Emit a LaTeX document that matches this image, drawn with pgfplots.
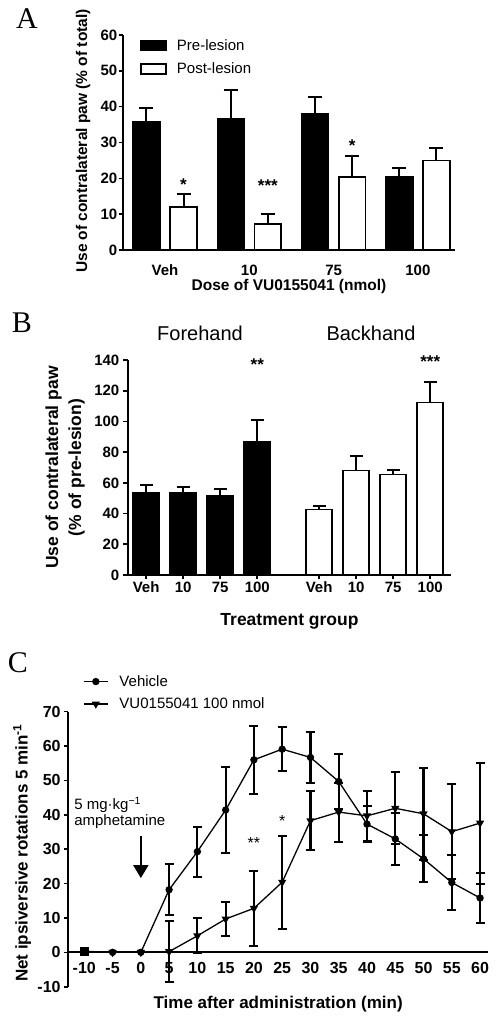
\documentclass[border=0pt]{standalone}
\usepackage{pgfplots}
\pgfplotsset{compat=1.18}
\usepackage{pgfplotstable}
\usepackage{fontspec}
\setmainfont{Liberation Sans}
\newfontfamily\serifletter{Liberation Serif}
\usetikzlibrary{arrows.meta}
\newcommand{\fs}[1]{\fontsize{#1}{#1}\selectfont}

% Panel A (bars at group position -0.22 / +0.22)
\pgfplotstableread{
x y err
-0.22 35.8 3.7
0.78 36.6 8.0
1.78 38.1 4.6
2.78 20.4 2.6
}\preA
\pgfplotstableread{
x y err
0.22 11.9 3.6
1.22 7.3 2.8
2.22 20.4 5.8
3.22 25.0 3.6
}\postA
% Panel B
\pgfplotstableread{
x y err
0 53.3 5.2
1 53.7 3.9
2 51.6 4.1
3 86.7 14.1
}\foreB
\pgfplotstableread{
x y err
4.67 42.7 2.4
5.67 68.0 9.4
6.67 65.5 3.0
7.67 112.3 13.4
}\backB
% Panel C
\pgfplotstableread{
t y err
-10 0.0 0.6
-5 0.0 0.0
0 0.0 0.0
5 18.2 7.4
10 29.3 7.3
15 41.4 12.5
20 56.0 9.8
25 59.1 6.4
30 56.7 7.4
35 49.7 8.0
40 37.3 5.3
45 33.0 7.5
50 27.2 6.8
55 20.3 8.1
60 15.8 7.3
}\vehC
\pgfplotstableread{
t y err
-10 0.3 1.0
-5 0.0 0.0
0 0.0 0.0
5 0.2 8.8
10 4.8 5.1
15 9.7 4.9
20 12.8 11.0
25 20.4 13.5
30 38.3 8.5
35 40.8 8.6
40 39.7 7.3
45 41.9 10.5
50 40.3 13.3
55 35.1 13.9
60 37.6 17.6
}\vuC

\pgfplotsset{
  panel/.style={
    scale only axis,
    axis x line*=bottom, axis y line*=left,
    axis line style={line width=2pt},
    tick style={line width=1.6pt, black},
    tick align=outside,
    major tick length=4.5pt,
    clip=false,
    /pgf/number format/assume math mode=true,
  },
  barlegend/.style={legend image code/.code={\draw[line width=1.8pt,##1] (0pt,-5pt) rectangle (25pt,5pt);}},
  linelegend/.style={legend image code/.code={\draw[mark repeat=2,mark phase=2,##1] plot coordinates {(0pt,0pt) (12pt,0pt) (24pt,0pt)};}},
}

\begin{document}
\begin{tikzpicture}
\useasboundingbox (0pt,0pt) rectangle (502pt,1018pt);

% ---------------- Panel A ----------------
\begin{axis}[panel,
  at={(123pt,768pt)}, anchor=south west,
  width=332pt, height=215pt,
  xmin=-0.498, xmax=3.44, ymin=0, ymax=60,
  xtick={0,1,2,3}, xticklabels={Veh,10,75,100},
  x tick style={draw=none},
  ytick={0,10,...,60},
  xticklabel style={font=\bfseries\fs{15}, inner sep=0pt, yshift=-10pt},
  yticklabel style={font=\bfseries\fs{15}, inner sep=1pt},
  xlabel={Dose of VU0155041 (nmol)},
  ylabel={Use of contralateral paw (\% of total)},
  xlabel style={font=\bfseries\fs{15.5}, at={(axis description cs:0.5,-0.172)}, anchor=center},
  ylabel style={font=\bfseries\fs{15.5}, at={(axis description cs:-0.1205,0.507)}, anchor=center},
  barlegend,
  legend style={draw=none, fill=none, at={(axis description cs:0.051,0.99)}, anchor=north west,
     font=\fs{15}, inner sep=0pt, row sep=7pt, column sep=8pt, nodes={inner sep=2pt}},
  legend cell align=left,
]
\addplot[ybar, bar width=0.315, bar shift=0, fill=black, draw=black, line width=1.8pt,
  error bars/y dir=plus, error bars/y explicit,
  error bars/error bar style={line width=2pt},
  error bars/error mark options={rotate=90, mark size=7pt, line width=2pt}]
  table[x=x, y=y, y error=err]{\preA};
\addlegendentry{Pre-lesion}
\addplot[ybar, bar width=0.315, bar shift=0, fill=white, draw=black, line width=1.8pt,
  error bars/y dir=plus, error bars/y explicit,
  error bars/error bar style={line width=2pt},
  error bars/error mark options={rotate=90, mark size=7pt, line width=2pt}]
  table[x=x, y=y, y error=err]{\postA};
\addlegendentry{Post-lesion}
\node[font=\bfseries\fs{17}, anchor=base, inner sep=0pt] at (axis cs:0.22,16.6) {*};
\node[font=\bfseries\fs{17}, anchor=base, inner sep=0pt] at (axis cs:1.22,16.2) {***};
\node[font=\bfseries\fs{17}, anchor=base, inner sep=0pt] at (axis cs:2.22,27.6) {*};
\end{axis}

% ---------------- Panel B ----------------
\begin{axis}[panel,
  at={(128pt,443pt)}, anchor=south west,
  width=323pt, height=215pt,
  xmin=-0.49, xmax=8.23, ymin=0, ymax=140,
  xtick={0,1,2,3,4.67,5.67,6.67,7.67}, xticklabels={Veh,10,75,100,Veh,10,75,100},
  ytick={0,20,...,140},
  xticklabel style={font=\bfseries\fs{15}, inner sep=2pt},
  yticklabel style={font=\bfseries\fs{15}, inner sep=4pt},
  xlabel={Treatment group},
  ylabel={Use of contralateral paw\\(\% of pre-lesion)},
  xlabel style={font=\bfseries\fs{17.5}, at={(axis description cs:0.5,-0.217)}, anchor=center},
  ylabel style={font=\bfseries\fontsize{17.5}{23}\selectfont, align=center, at={(axis description cs:-0.195,0.5)}, anchor=center},
]
\addplot[ybar, bar width=0.70, bar shift=0, fill=black, draw=black, line width=1.8pt,
  error bars/y dir=plus, error bars/y explicit,
  error bars/error bar style={line width=2pt},
  error bars/error mark options={rotate=90, mark size=6.5pt, line width=2pt}]
  table[x=x, y=y, y error=err]{\foreB};
\addplot[ybar, bar width=0.70, bar shift=0, fill=white, draw=black, line width=1.8pt,
  error bars/y dir=plus, error bars/y explicit,
  error bars/error bar style={line width=2pt},
  error bars/error mark options={rotate=90, mark size=6.5pt, line width=2pt}]
  table[x=x, y=y, y error=err]{\backB};
\node[font=\bfseries\fs{17}, anchor=base, inner sep=0pt] at (axis cs:3,133) {**};
\node[font=\bfseries\fs{17}, anchor=base, inner sep=0pt] at (axis cs:7.67,135.4) {***};
\end{axis}
\node[font=\fs{20}] at (200pt,685pt) {Forehand};
\node[font=\fs{20}] at (371pt,685pt) {Backhand};

% ---------------- Panel C ----------------
\begin{axis}[panel,
  axis x line*=middle,
  at={(68.3pt,31.3pt)}, anchor=south west,
  width=419.7pt, height=275pt,
  xmin=-12.83, xmax=61.4, ymin=-10, ymax=70,
  xtick={-10,-5,...,60}, ytick={-10,0,...,70},
  x tick style={draw=none},
  xticklabel style={font=\bfseries\fs{16}, inner sep=2pt, yshift=-3pt},
  yticklabel style={font=\bfseries\fs{16}, inner sep=3pt},
  xlabel={Time after administration (min)},
  ylabel={Net ipsiversive rotations 5 min\textsuperscript{-1}},
  xlabel style={font=\bfseries\fs{17}, at={(axis description cs:0.5,-0.063)}, anchor=center},
  ylabel style={font=\bfseries\fs{17}, at={(axis description cs:-0.110,0.486)}, anchor=center},
  linelegend,
  legend style={draw=none, fill=none, at={(axis description cs:0.035,1.14)}, anchor=north west,
     font=\fs{15}, inner sep=0pt, row sep=6pt, column sep=9pt, nodes={inner sep=2pt}},
  legend cell align=left,
]
\addplot[black, line width=1.3pt, mark=*, mark size=3pt, mark options={solid, fill=black},
  error bars/y dir=both, error bars/y explicit,
  error bars/error bar style={line width=2.2pt},
  error bars/error mark options={rotate=90, mark size=4.5pt, line width=2pt}]
  table[x=t, y=y, y error=err]{\vehC};
\addlegendentry{Vehicle}
\addplot[black, line width=1.3pt, mark=triangle*, mark size=3.5pt, mark options={solid, fill=black, rotate=180},
  error bars/y dir=both, error bars/y explicit,
  error bars/error bar style={line width=2.2pt},
  error bars/error mark options={rotate=90, mark size=4.5pt, line width=2pt}]
  table[x=t, y=y, y error=err]{\vuC};
\addlegendentry{VU0155041 100 nmol}
\draw[line width=2pt, -{Triangle[width=15pt,length=13pt]}] (axis cs:0,33.7) -- (axis cs:0,21.6);
\node[anchor=west, align=left, font=\fontsize{15}{15.7}\selectfont, inner sep=0pt] at (axis cs:-11.8,40.6) {5 mg·kg\textsuperscript{−1}\\amphetamine};
\node[font=\fs{16}, anchor=base, inner sep=0pt] at (axis cs:20,30.2) {**};
\node[font=\fs{16}, anchor=base, inner sep=0pt] at (axis cs:25,36.7) {*};
\end{axis}

% Panel letters
\node[font=\serifletter\fs{30}] at (27pt,999pt) {A};
\node[font=\serifletter\fs{30}] at (22pt,695pt) {B};
\node[font=\serifletter\fs{30}] at (18pt,355pt) {C};
\end{tikzpicture}
\end{document}
